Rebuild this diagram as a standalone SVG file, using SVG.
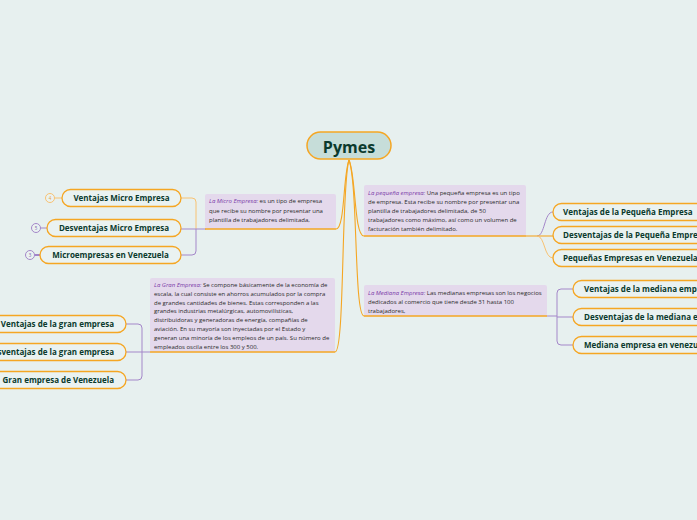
<svg xmlns="http://www.w3.org/2000/svg" width="697" height="520" viewBox="0 0 697 520">
<style>
.bg{fill:#e7f0ef}
.node rect{fill:#eaf2f1;stroke:#f5a623;stroke-width:1.3}
.node text{font-family:"Open Sans","Noto Sans",sans-serif;font-size:8px;font-weight:700;fill:#0b3a2d}
.desc rect{fill:#e4d9ec}
.desc .ul{stroke:#f5a623;stroke-width:1.5}
.desc text{font-family:"Open Sans","Noto Sans",sans-serif;font-size:6px;fill:#2a2a2a}
.desc .lab{font-style:italic;fill:#7a3aa8}
.c-or{fill:none;stroke:#f5a623;stroke-width:1.1}
.c-lor{fill:none;stroke:#f8c272;stroke-width:1}
.c-pu{fill:none;stroke:#a487c9;stroke-width:1}
.cnt circle{fill:#eaf2f1;stroke-width:1}
.cnt text{font-family:"Open Sans",sans-serif;font-size:4.5px;text-anchor:middle}
</style>
<rect class="bg" x="0" y="0" width="697" height="520"/>

<g id="connectors">
  <path class="c-or" d="M349,160 C343,175 345,229 336,229"/>
  <path class="c-or" d="M349,160 C341,185 345,352 335,352"/>
  <path class="c-or" d="M349,160 C356,175 354,236 364,236"/>
  <path class="c-or" d="M349,160 C358,185 354,316 364,316"/>
  <path class="c-lor" d="M181,198 H192 Q196,198 196,202 V229"/>
  <path class="c-pu" d="M181,229 H206"/>
  <path class="c-pu" d="M181,255 H192 Q196,255 196,251 V229"/>
  <path class="c-pu" d="M126,324 H138 Q142,324 142,328 V352"/>
  <path class="c-pu" d="M126,352 H150"/>
  <path class="c-pu" d="M126,380 H138 Q142,380 142,376 V352"/>
  <path class="c-or" d="M526,236 H537"/>
  <path class="c-pu" d="M537,236 C545,236 544,212 553,212"/>
  <path class="c-or" d="M537,236 H553"/>
  <path class="c-lor" d="M537,236 C545,236 544,258 553,258"/>
  <path class="c-pu" d="M547,316 H557"/>
  <path class="c-pu" d="M573,289 H561 Q557,289 557,293 V341 Q557,345 561,345 H573"/>
  <path class="c-pu" d="M557,317 H573"/>
  <path class="c-lor" d="M54.5,198 H62"/>
  <path class="c-pu" d="M40.5,228 H47"/>
  <path fill="none" stroke="#9a78c4" stroke-width="1.8" d="M34.5,255 H40"/>
</g>

<g id="counters" class="cnt">
  <circle cx="50" cy="198" r="4.5" stroke="#f8c272"/>
  <text x="50" y="199.6" fill="#e9a23b">4</text>
  <circle cx="36" cy="228" r="4.5" stroke="#a487c9"/>
  <text x="36" y="229.6" fill="#7a5aa8">5</text>
  <circle cx="30" cy="255" r="4.5" stroke="#a487c9"/>
  <text x="30" y="256.6" fill="#7a5aa8">3</text>
</g>

<g id="pymes">
  <rect x="307" y="132" width="84" height="27" rx="13.5" fill="#c6ddd9" stroke="#f5a623" stroke-width="1.5"/>
  <text x="349" y="152.5" text-anchor="middle" font-family="'Open Sans','Noto Sans',sans-serif" font-size="16" font-weight="700" fill="#0b3a2d">Pymes</text>
</g>

<g id="micro-desc" class="desc">
  <rect x="205" y="194" width="131" height="35" rx="2"/>
  <line class="ul" x1="205" y1="229" x2="336" y2="229"/>
  <text x="209" y="203"><tspan class="lab">La Micro Empresa:</tspan> es un tipo de empresa</text>
  <text x="209" y="212.5">que recibe su nombre por presentar una</text>
  <text x="209" y="222">plantilla de trabajadores delimitada,</text>
</g>

<g id="pequena-desc" class="desc">
  <rect x="364" y="185" width="162" height="51" rx="2"/>
  <line class="ul" x1="364" y1="236" x2="526" y2="236"/>
  <text x="368" y="195"><tspan class="lab">La pequeña empresa:</tspan> Una pequeña empresa es un tipo</text>
  <text x="368" y="204">de empresa. Esta recibe su nombre por presentar una</text>
  <text x="368" y="213">plantilla de trabajadores delimitada, de 50</text>
  <text x="368" y="222">trabajadores como máximo, así como un volumen de</text>
  <text x="368" y="230.5">facturación también delimitado.</text>
</g>

<g id="mediana-desc" class="desc">
  <rect x="364" y="285" width="183" height="31" rx="2"/>
  <line class="ul" x1="364" y1="316" x2="547" y2="316"/>
  <text x="368" y="295"><tspan class="lab">La Mediana Empresa:</tspan> Las medianas empresas son los negocios</text>
  <text x="368" y="304">dedicados al comercio que tiene desde 31 hasta 100</text>
  <text x="368" y="313">trabajadores,</text>
</g>

<g id="gran-desc" class="desc">
  <rect x="150" y="278" width="185" height="74" rx="2"/>
  <line class="ul" x1="150" y1="352" x2="335" y2="352"/>
  <text x="154" y="287"><tspan class="lab">La Gran Empresa:</tspan> Se compone básicamente de la economía de</text>
  <text x="154" y="295.8">escala, la cual consiste en ahorros acumulados por la compra</text>
  <text x="154" y="304.6">de grandes cantidades de bienes. Estas corresponden a las</text>
  <text x="154" y="313.4">grandes industrias metalúrgicas, automovilísticas,</text>
  <text x="154" y="322.2">distribuidoras y generadoras de energía, compañías de</text>
  <text x="154" y="331">aviación. En su mayoría son inyectadas por el Estado y</text>
  <text x="154" y="339.8">generan una minoría de los empleos de un país. Su número de</text>
  <text x="154" y="348.6">empleados oscila entre los 300 y 500.</text>
</g>

<g id="ventajas-micro" class="node">
  <rect x="62" y="189.5" width="119" height="17" rx="8.5"/>
  <text x="121.5" y="200.8" text-anchor="middle">Ventajas Micro Empresa</text>
</g>
<g id="desventajas-micro" class="node">
  <rect x="47" y="219.5" width="134" height="17" rx="8.5"/>
  <text x="114" y="230.8" text-anchor="middle">Desventajas Micro Empresa</text>
</g>
<g id="microempresas-venezuela" class="node">
  <rect x="40" y="246.5" width="141" height="17" rx="8.5"/>
  <text x="110.5" y="257.8" text-anchor="middle">Microempresas en Venezuela</text>
</g>

<g id="ventajas-gran" class="node">
  <rect x="-30" y="315.5" width="156" height="17" rx="8.5"/>
  <text x="114" y="326.8" text-anchor="end">Ventajas de la gran empresa</text>
</g>
<g id="desventajas-gran" class="node">
  <rect x="-30" y="343.5" width="156" height="17" rx="8.5"/>
  <text x="114" y="354.8" text-anchor="end">Desventajas de la gran empresa</text>
</g>
<g id="gran-venezuela" class="node">
  <rect x="-30" y="371.5" width="156" height="17" rx="8.5"/>
  <text x="114" y="382.8" text-anchor="end">Gran empresa de Venezuela</text>
</g>

<g id="ventajas-pequena" class="node">
  <rect x="553" y="203.5" width="170" height="17" rx="8.5"/>
  <text x="563" y="214.8">Ventajas de la Pequeña Empresa</text>
</g>
<g id="desventajas-pequena" class="node">
  <rect x="553" y="226.5" width="180" height="17" rx="8.5"/>
  <text x="563" y="237.8">Desventajas de la Pequeña Empresa</text>
</g>
<g id="pequenas-venezuela" class="node">
  <rect x="553" y="249.5" width="170" height="17" rx="8.5"/>
  <text x="563" y="260.8">Pequeñas Empresas en Venezuela</text>
</g>

<g id="ventajas-mediana" class="node">
  <rect x="573" y="280.5" width="170" height="17" rx="8.5"/>
  <text x="584" y="291.8">Ventajas de la mediana empresa</text>
</g>
<g id="desventajas-mediana" class="node">
  <rect x="573" y="308.5" width="180" height="17" rx="8.5"/>
  <text x="584" y="319.8">Desventajas de la mediana empresa</text>
</g>
<g id="mediana-venezuela" class="node">
  <rect x="573" y="336.5" width="180" height="17" rx="8.5"/>
  <text x="584" y="347.8">Mediana empresa en venezuela</text>
</g>
</svg>
